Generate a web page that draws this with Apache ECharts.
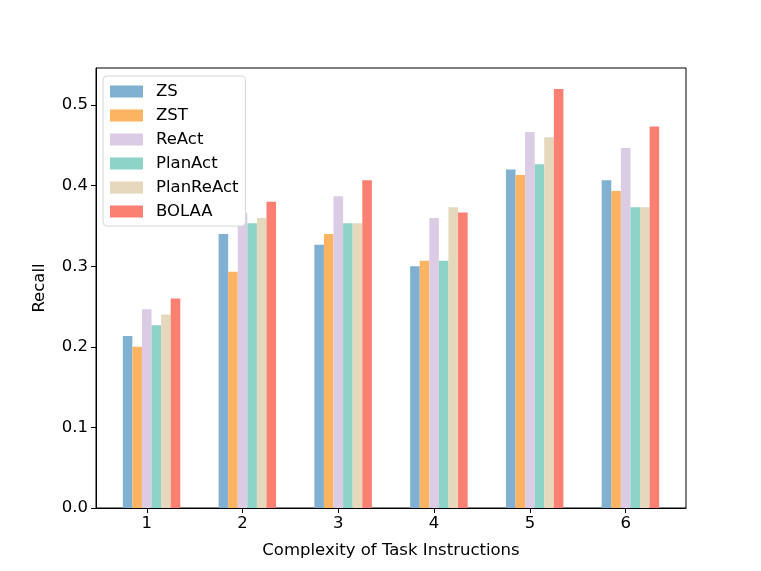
<!DOCTYPE html>
<html><head><meta charset="utf-8">
<script src="https://cdn.jsdelivr.net/npm/echarts@6/dist/echarts.min.js"></script>
<style>html,body{margin:0;padding:0;background:#fff}#c{width:761px;height:571px}</style>
</head><body><div id="c"></div>
<script>
const categories = [1, 2, 3, 4, 5, 6];
const seriesNames = ['ZS', 'ZST', 'ReAct', 'PlanAct', 'PlanReAct', 'BOLAA'];
const ZS        = [0.2133, 0.3400, 0.3267, 0.3000, 0.4200, 0.4067];
const ZST       = [0.2000, 0.2933, 0.3400, 0.3067, 0.4133, 0.3933];
const ReAct     = [0.2467, 0.3667, 0.3867, 0.3600, 0.4667, 0.4467];
const PlanAct   = [0.2267, 0.3533, 0.3533, 0.3067, 0.4267, 0.3733];
const PlanReAct = [0.2400, 0.3600, 0.3533, 0.3733, 0.4600, 0.3733];
const BOLAA     = [0.2600, 0.3800, 0.4067, 0.3667, 0.5200, 0.4733];
const yTicks = [0, 0.1, 0.2, 0.3, 0.4, 0.5];

const values = [ZS, ZST, ReAct, PlanAct, PlanReAct, BOLAA];
const colors = ['#80b1d3', '#fdb462', '#dccbe4', '#8dd3c7', '#e5d8bc', '#fb8072'];
const barUnit = 0.1;
const xMin = 0.47, xMax = 6.63;
const gridLeft = 96, gridRight = 75;
const plotW = 761 - gridLeft - gridRight;
const barPx = plotW / (xMax - xMin) * barUnit;
const font = 'DejaVu Sans';
const fs = 16.5;

const series = seriesNames.map((name, i) => ({
  name: name,
  type: 'bar',
  barWidth: barPx,
  barGap: '-100%',
  itemStyle: { color: colors[i] },
  data: categories.map((c, j) => [c + (i - 2) * barUnit, values[i][j]])
}));

const chart = echarts.init(document.getElementById('c'), null, { renderer: 'canvas' });
chart.setOption({
  animation: false,
  textStyle: { fontFamily: font },
  grid: { left: gridLeft, right: gridRight, top: 68, bottom: 63, show: true, borderColor: '#000', borderWidth: 1, backgroundColor: 'transparent' },
  legend: {
    orient: 'vertical', left: 103, top: 76,
    data: seriesNames,
    itemWidth: 33, itemHeight: 12, itemGap: 7,
    icon: 'rect',
    padding: [7, 7, 6, 7],
    backgroundColor: '#fff', borderColor: '#d6d6d6', borderWidth: 1, borderRadius: 4,
    textStyle: { fontFamily: font, fontSize: fs, color: '#000', lineHeight: 16, padding: [0, 0, 0, 8] }
  },
  xAxis: {
    type: 'value', min: xMin, max: xMax,
    name: 'Complexity of Task Instructions', nameLocation: 'middle', nameGap: 34,
    nameTextStyle: { fontFamily: font, fontSize: fs, color: '#000' },
    splitLine: { show: false },
    axisLine: { show: true, onZero: false, lineStyle: { color: '#000', width: 1 } },
    axisTick: { show: true, length: 5, lineStyle: { color: '#000' }, customValues: categories },
    axisLabel: { color: '#000', fontSize: fs, fontFamily: font, margin: 7, customValues: categories }
  },
  yAxis: {
    type: 'value', min: 0, max: 0.546,
    name: 'Recall', nameLocation: 'middle', nameGap: 48, nameRotate: 90,
    nameTextStyle: { fontFamily: font, fontSize: fs, color: '#000' },
    splitLine: { show: false },
    axisLine: { show: true, lineStyle: { color: '#000', width: 1 } },
    axisTick: { show: true, length: 5, lineStyle: { color: '#000' }, customValues: yTicks },
    axisLabel: { color: '#000', fontSize: fs, fontFamily: font, margin: 8, customValues: yTicks, formatter: v => v.toFixed(1) }
  },
  series: series
});
</script></body></html>
